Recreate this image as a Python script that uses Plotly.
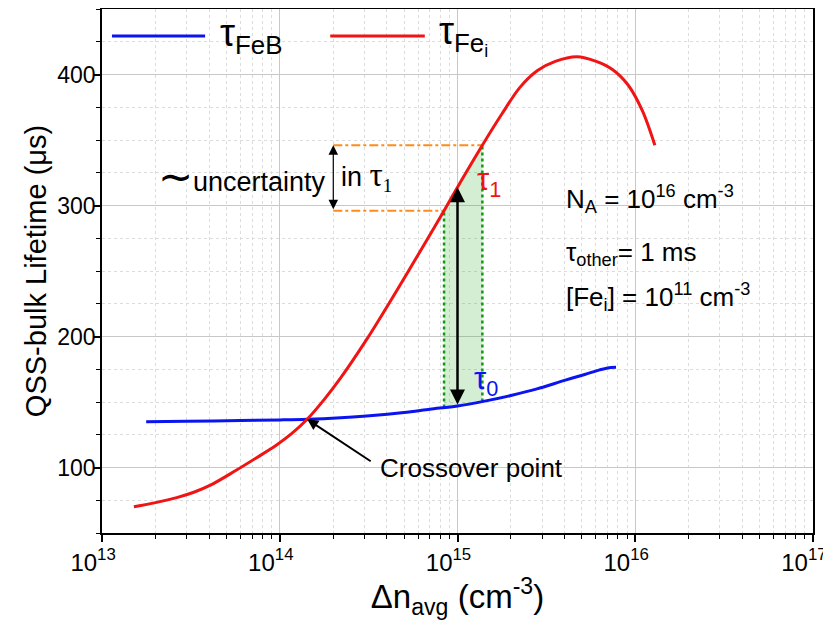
import numpy as np
import plotly.graph_objects as go

# ---------------- data ----------------
dn_feb = [1.77e13, 3.0e13, 6.0e13, 1.0e14, 1.43e14, 2.2e14, 3.2e14, 5.0e14, 7.0e14,
          1.0e15, 1.4e15, 2.0e15, 2.8e15, 4.0e15, 5.2e15, 6.3e15, 7.0e15, 7.8e15]
tau_feb = [135, 135.3, 135.8, 136.3, 136.8, 138, 139.5, 142, 144.5,
           147, 150.5, 155, 160, 166.5, 171, 174.5, 176, 176.5]

dn_fei = [1.51e13, 2.0e13, 2.63e13, 3.31e13, 4.07e13, 5.62e13, 7.41e13, 9.55e13, 1.17e14,
          1.43e14, 1.78e14, 2.19e14, 3.09e14, 3.98e14, 5.25e14, 6.61e14, 8.4e14, 1.0e15,
          1.38e15, 1.78e15, 2.24e15, 2.82e15, 3.55e15, 4.7e15, 6.03e15, 7.41e15, 9.12e15,
          1.1e16, 1.29e16]
tau_fei = [70, 73.2, 77, 81.3, 86.5, 97.5, 107.5, 117, 126,
           137, 152, 168, 198, 222, 249, 272, 296, 314,
           346, 370, 390, 403, 410, 413.5, 410, 404, 392,
           372, 346]

band_dn = [8.4e14, 1.38e15]      # green shaded window
arrow_dn = 1.0e15                # tau1 / tau0 arrow position
unc_dn = 2.0e14                  # uncertainty arrow position

x_tickvals = [1e13, 1e14, 1e15, 1e16, 1e17]
x_ticktext = ["10<sup>13</sup>", "10<sup>14</sup>", "10<sup>15</sup>", "10<sup>16</sup>", "10<sup>17</sup>"]
y_tickvals = [100, 200, 300, 400]
y_ticktext = ["100", "200", "300", "400"]

# ---------------- helpers ----------------
lx_feb = np.log10(dn_feb)
lx_fei = np.log10(dn_fei)


def red_at(d):
    return np.interp(np.log10(d), lx_fei, tau_fei)


def blue_at(d):
    return np.interp(np.log10(d), lx_feb, tau_feb)


# crossover point from the two curves
grid = np.linspace(max(lx_feb[0], lx_fei[0]), 14.6, 2000)
diff = np.interp(grid, lx_fei, tau_fei) - np.interp(grid, lx_feb, tau_feb)
i0 = int(np.argmax(diff > 0))
cross_lx = float(grid[i0])
cross_tau = float(np.interp(cross_lx, lx_feb, tau_feb))

BLUE = "#0a14f0"
RED = "#f01414"
GREEN = "#109a10"
ORANGE = "#ff8c1a"
FONT = "Liberation Sans, Arial, sans-serif"

fig = go.Figure()

# shaded window between the curves
bx = np.logspace(np.log10(band_dn[0]), np.log10(band_dn[1]), 40)
fig.add_trace(go.Scatter(
    x=np.concatenate([bx, bx[::-1]]),
    y=np.concatenate([red_at(bx), blue_at(bx)[::-1]]),
    fill="toself", fillcolor="rgba(40,170,40,0.20)", line=dict(width=0),
    mode="lines", hoverinfo="skip", showlegend=False))

# orange dash-dot guide lines
for d in band_dn:
    fig.add_trace(go.Scatter(x=[unc_dn, d], y=[red_at(d), red_at(d)], mode="lines",
                             line=dict(color=ORANGE, width=2, dash="dashdot"), showlegend=False))
# green dotted verticals
for d in band_dn:
    fig.add_trace(go.Scatter(x=[d, d], y=[blue_at(d), red_at(d)], mode="lines",
                             line=dict(color=GREEN, width=2.5, dash="dot"), showlegend=False))

# curves
fig.add_trace(go.Scatter(x=dn_feb, y=tau_feb, mode="lines", name="τFeB",
                         line=dict(color=BLUE, width=3, shape="spline", smoothing=0.9),
                         showlegend=False))
fig.add_trace(go.Scatter(x=dn_fei, y=tau_fei, mode="lines", name="τFei",
                         line=dict(color=RED, width=3, shape="spline", smoothing=0.9),
                         showlegend=False))

ann = []
# big double arrow tau1 <-> tau0
la = float(np.log10(arrow_dn))
ann.append(dict(x=la, y=float(red_at(arrow_dn)), ax=la, ay=float(blue_at(arrow_dn)),
                xref="x", yref="y", axref="x", ayref="y", text="", showarrow=True,
                arrowhead=2, startarrowhead=2, arrowside="end+start", arrowsize=1.2,
                arrowwidth=2.5, arrowcolor="black"))
# uncertainty double arrow
lu = float(np.log10(unc_dn))
ann.append(dict(x=lu, y=float(red_at(band_dn[1])), ax=lu, ay=float(red_at(band_dn[0])),
                xref="x", yref="y", axref="x", ayref="y", text="", showarrow=True,
                arrowhead=2, startarrowhead=2, arrowside="end+start", arrowsize=1.6,
                arrowwidth=1.2, arrowcolor="black"))
# crossover arrow
ann.append(dict(x=cross_lx, y=cross_tau, ax=14.52, ay=104, xref="x", yref="y",
                axref="x", ayref="y", text="", showarrow=True, arrowhead=2,
                arrowsize=1.1, arrowwidth=2, arrowcolor="black"))
ann.append(dict(x=14.55, y=100, xref="x", yref="y", text="Crossover point", showarrow=False,
                xanchor="left", yanchor="middle", font=dict(size=26, family=FONT, color="black")))
# uncertainty text
ann.append(dict(x=lu - 0.03, y=322, xref="x", yref="y",
                text="<span style='font-size:42px'>∼</span>uncertainty", showarrow=False,
                xanchor="right", yanchor="middle", font=dict(size=27, family=FONT, color="black")))
ann.append(dict(x=lu + 0.03, y=322, xref="x", yref="y",
                text="in <span style='font-family:Liberation Serif;font-size:33px'>τ</span>"
                     "<sub><span style='font-family:Liberation Serif'>1</span></sub>",
                showarrow=False, xanchor="left", yanchor="middle",
                font=dict(size=27, family=FONT, color="black")))
# tau labels
ann.append(dict(x=15.10, y=318, xref="x", yref="y", text="τ<sub>1</sub>", showarrow=False,
                xanchor="left", yanchor="middle", font=dict(size=31, family=FONT, color=RED)))
ann.append(dict(x=15.08, y=166, xref="x", yref="y", text="τ<sub>0</sub>", showarrow=False,
                xanchor="left", yanchor="middle", font=dict(size=31, family=FONT, color=BLUE)))
# parameter block
ann.append(dict(x=15.60, y=305, xref="x", yref="y",
                text="N<sub>A</sub> = 10<sup>16</sup> cm<sup>-3</sup>", showarrow=False,
                xanchor="left", yanchor="middle", font=dict(size=26, family=FONT, color="black")))
ann.append(dict(x=15.60, y=263, xref="x", yref="y",
                text="τ<sub>other</sub>= 1 ms", showarrow=False,
                xanchor="left", yanchor="middle", font=dict(size=26, family=FONT, color="black")))
ann.append(dict(x=15.60, y=230, xref="x", yref="y",
                text="[Fe<sub>i</sub>] = 10<sup>11</sup> cm<sup>-3</sup>", showarrow=False,
                xanchor="left", yanchor="middle", font=dict(size=26, family=FONT, color="black")))
# legend (drawn manually for the long line samples)
ann.append(dict(x=0.163, y=0.949, xref="paper", yref="paper",
                text="<span style='font-size:38px'>τ</span><sub>FeB</sub>",
                showarrow=False, xanchor="left", yanchor="middle",
                font=dict(size=37, family=FONT, color="black")))
ann.append(dict(x=0.471, y=0.949, xref="paper", yref="paper",
                text="<span style='font-size:38px'>τ</span><sub>Fe<sub>i</sub></sub>",
                showarrow=False, xanchor="left", yanchor="middle",
                font=dict(size=37, family=FONT, color="black")))

shapes = [
    dict(type="line", xref="paper", yref="paper", x0=0.014, x1=0.145, y0=0.9487, y1=0.9487,
         line=dict(color=BLUE, width=3)),
    dict(type="line", xref="paper", yref="paper", x0=0.321, x1=0.454, y0=0.9487, y1=0.9487,
         line=dict(color=RED, width=3)),
]

# the page body adds an 8px offset, so the figure is 8px smaller than the window
fig.update_layout(
    width=823, height=612,
    margin=dict(l=94, r=18, t=1, b=87, autoexpand=False),
    paper_bgcolor="white", plot_bgcolor="white",
    showlegend=False,
    font=dict(family=FONT, color="black"),
    annotations=ann, shapes=shapes,
)
fig.update_xaxes(
    type="log", range=[12.9995, 17.0005], automargin=False,
    tickmode="array", tickvals=x_tickvals, ticktext=x_ticktext,
    ticklabeloverflow="allow", ticklabelshift=-9,
    ticks="outside", ticklen=7, tickwidth=1.5, tickcolor="black",
    showline=True, linewidth=1.5, linecolor="black", mirror=True,
    showgrid=True, gridcolor="#c8c8c8", gridwidth=1,
    minor=dict(ticks="outside", ticklen=4, tickwidth=1, tickcolor="black", dtick="D1",
               showgrid=True, gridcolor="#dcdcdc", griddash="dot", gridwidth=1),
    tickfont=dict(size=24, family=FONT),
    title=dict(text="Δn<sub>avg</sub> (cm<sup>-3</sup>)", font=dict(size=33, family=FONT), standoff=0),
    zeroline=False,
)
fig.update_yaxes(
    range=[50, 450], automargin=False,
    tickmode="array", tickvals=y_tickvals, ticktext=y_ticktext,
    ticklabelstandoff=-7,
    ticks="outside", ticklen=7, tickwidth=1.5, tickcolor="black",
    showline=True, linewidth=1.5, linecolor="black", mirror=True,
    showgrid=True, gridcolor="#c8c8c8", gridwidth=1,
    minor=dict(ticks="outside", ticklen=4, tickwidth=1, tickcolor="black", dtick=25, tick0=0,
               showgrid=True, gridcolor="#dcdcdc", griddash="dot", gridwidth=1),
    tickfont=dict(size=23, family=FONT),
    title=dict(text="QSS-bulk Lifetime (μs)", font=dict(size=29, family=FONT), standoff=2),
    zeroline=False,
)

fig.write_html("out.html")
